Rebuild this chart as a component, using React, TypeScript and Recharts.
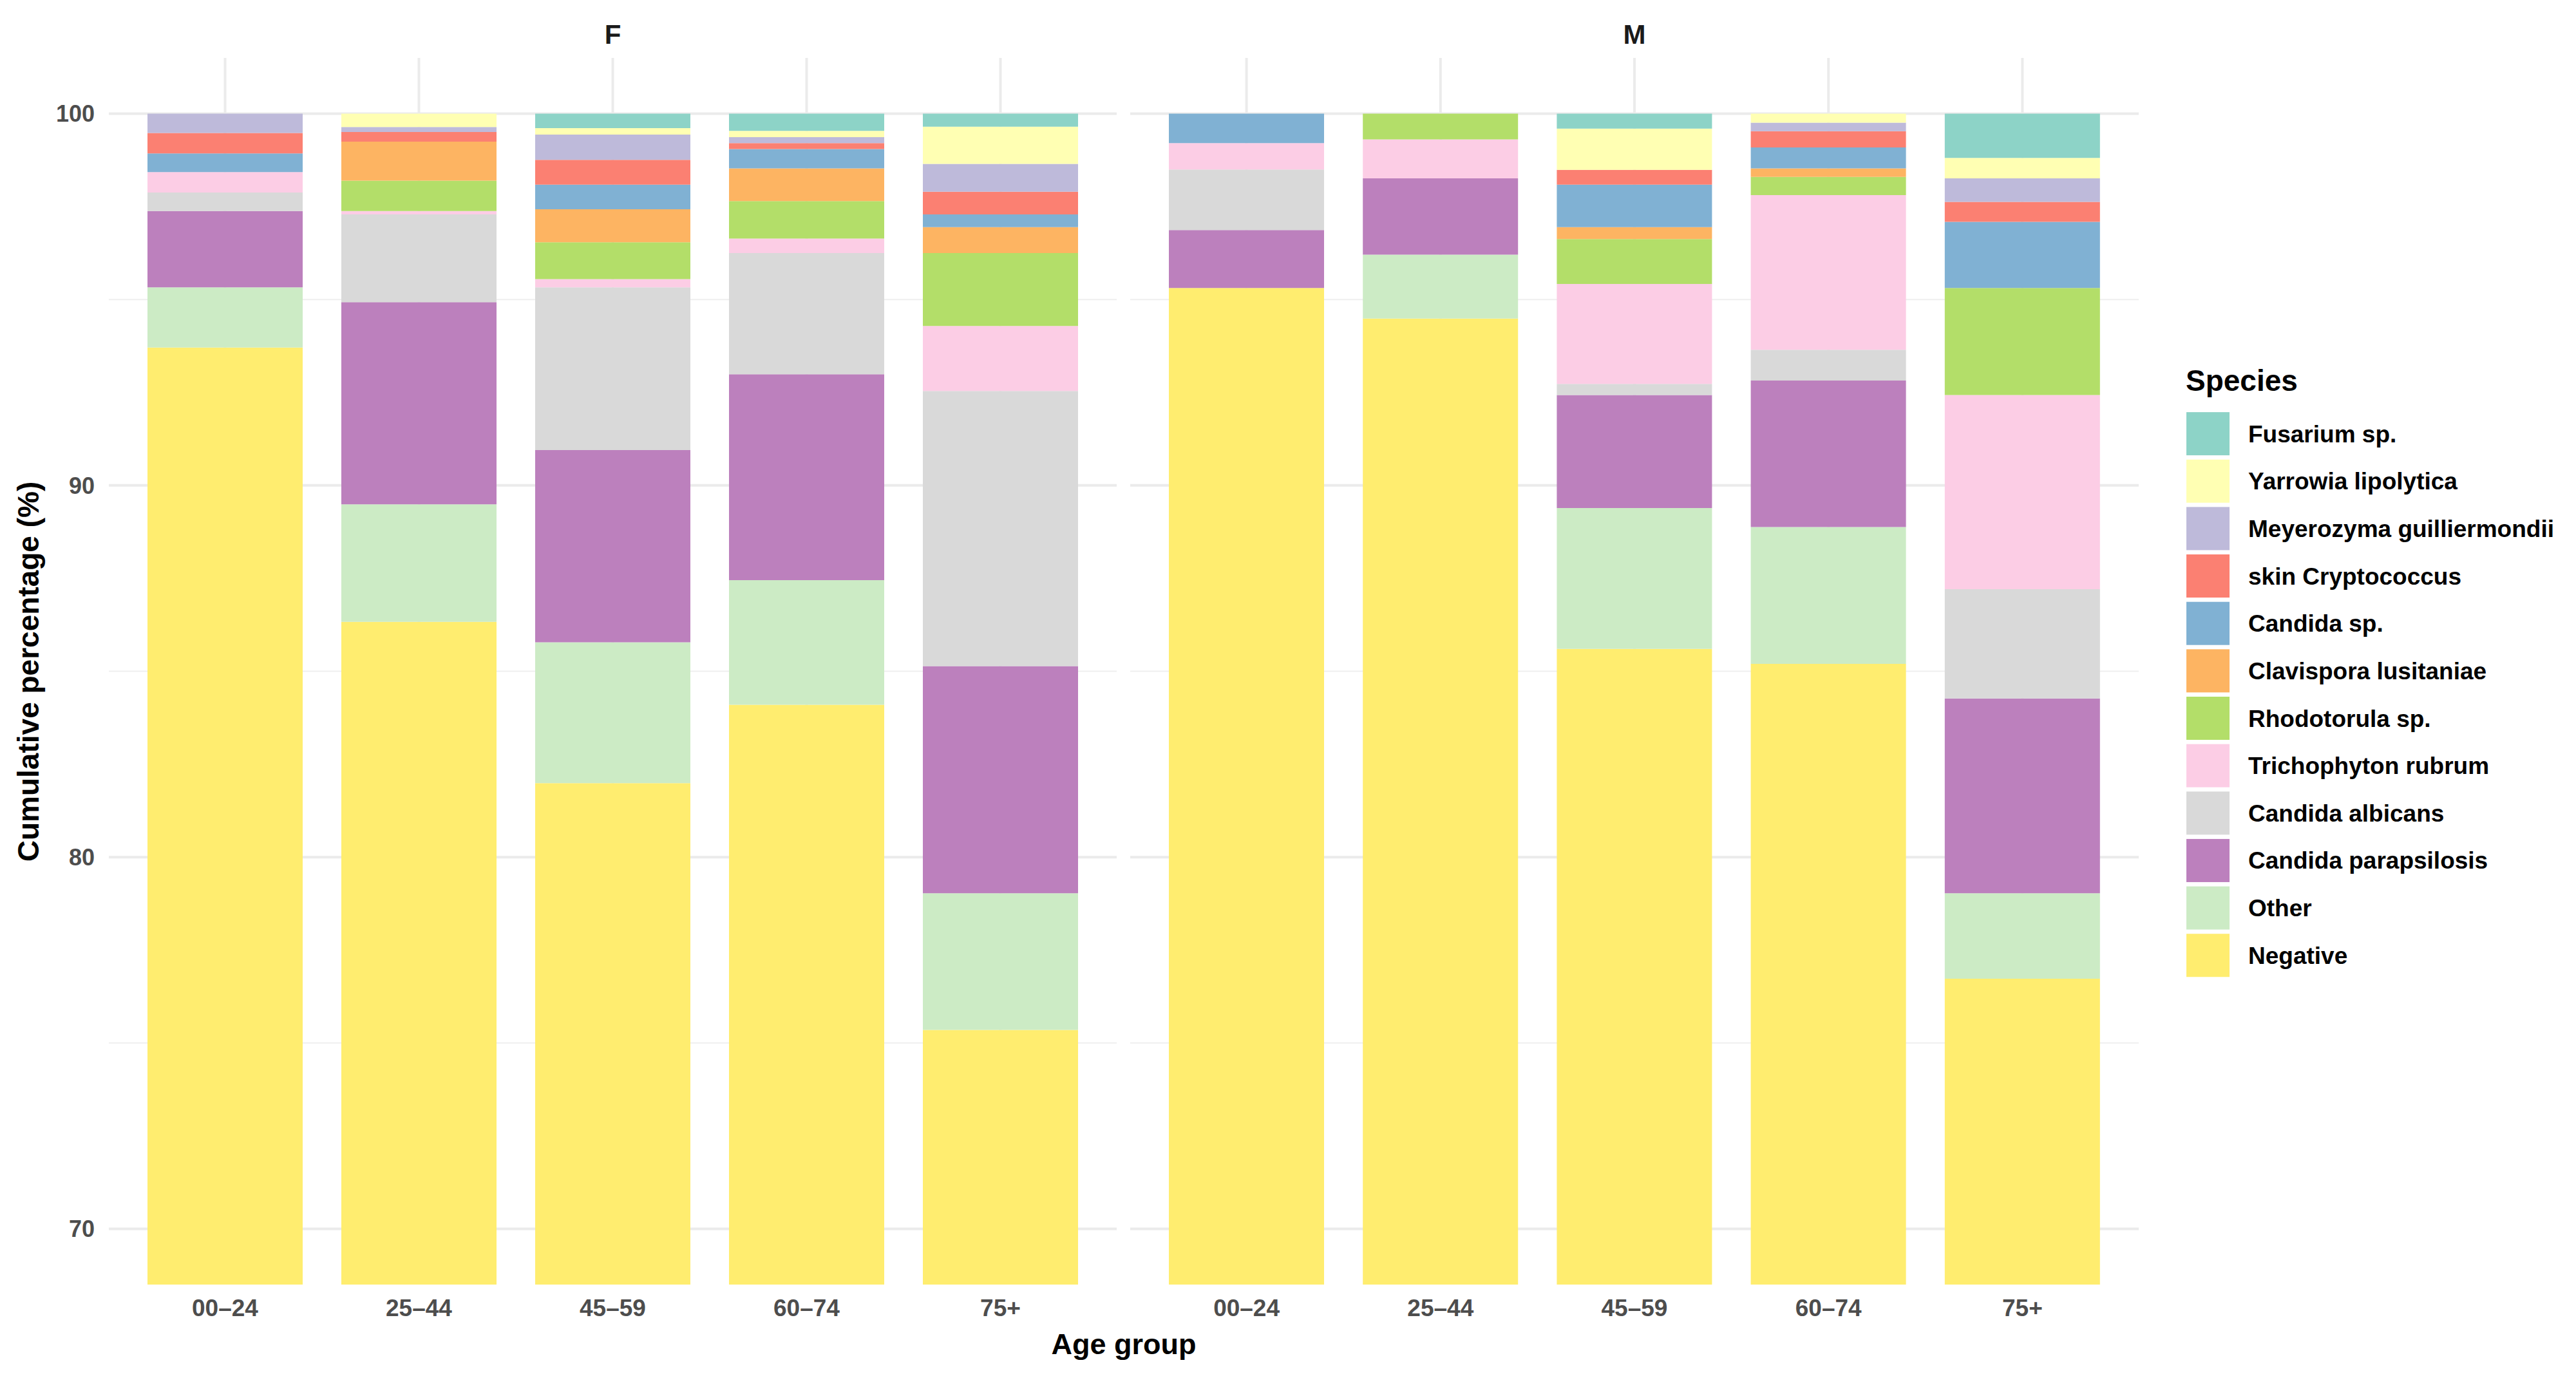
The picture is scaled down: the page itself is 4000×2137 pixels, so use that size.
import React from "react";
import { BarChart, Bar, XAxis, YAxis, CartesianGrid } from "recharts";

const ageGroups = ["00–24", "25–44", "45–59", "60–74", "75+"];
const sexes = ["F", "M"];

// values per bar: first 5 = F (age groups in order), last 5 = M
const negative = [93.71, 86.33, 81.99, 84.1, 75.35, 95.31, 94.49, 85.6, 85.2, 76.73];
const other = [1.62, 3.16, 3.79, 3.35, 3.68, 0, 1.72, 3.79, 3.68, 2.3];
const candidaParapsilosis = [2.05, 5.44, 5.17, 5.54, 6.11, 1.56, 2.05, 3.04, 3.94, 5.24];
const candidaAlbicans = [0.5, 2.36, 4.38, 3.26, 7.4, 1.63, 0, 0.3, 0.83, 2.94];
const trichophytonRubrum = [0.55, 0.09, 0.22, 0.39, 1.75, 0.71, 1.05, 2.69, 4.16, 5.22];
const rhodotorula = [0, 0.82, 0.99, 1.01, 1.96, 0, 0.69, 1.21, 0.49, 2.88];
const clavispora = [0, 1.05, 0.89, 0.88, 0.7, 0, 0, 0.32, 0.23, 0];
const candidaSp = [0.5, 0, 0.66, 0.52, 0.34, 0.79, 0, 1.14, 0.56, 1.78];
const skinCryptococcus = [0.55, 0.26, 0.67, 0.16, 0.61, 0, 0, 0.4, 0.44, 0.54];
const meyerozyma = [0.52, 0.13, 0.68, 0.16, 0.75, 0, 0, 0, 0.23, 0.63];
const yarrowia = [0, 0.36, 0.17, 0.17, 1.0, 0, 0, 1.11, 0.24, 0.55];
const fusarium = [0, 0, 0.39, 0.46, 0.35, 0, 0, 0.4, 0, 1.19];

// stacking order: bottom -> top
const speciesNames = [
  "Negative",
  "Other",
  "Candida parapsilosis",
  "Candida albicans",
  "Trichophyton rubrum",
  "Rhodotorula sp.",
  "Clavispora lusitaniae",
  "Candida sp.",
  "skin Cryptococcus",
  "Meyerozyma guilliermondii",
  "Yarrowia lipolytica",
  "Fusarium sp.",
];
const speciesColors = [
  "#FFED6F",
  "#CCEBC5",
  "#BC80BD",
  "#D9D9D9",
  "#FCCDE5",
  "#B3DE69",
  "#FDB462",
  "#80B1D3",
  "#FB8072",
  "#BEBADA",
  "#FFFFB3",
  "#8DD3C7",
];
const speciesValues = [
  negative,
  other,
  candidaParapsilosis,
  candidaAlbicans,
  trichophytonRubrum,
  rhodotorula,
  clavispora,
  candidaSp,
  skinCryptococcus,
  meyerozyma,
  yarrowia,
  fusarium,
];

const yTicks = [70, 80, 90, 100];
const yMinor = [75, 85, 95];

const FONT = '"Liberation Sans", Arial, Helvetica, sans-serif';

function buildData(sexIndex: number) {
  return ageGroups.map((age, i) => {
    const row: Record<string, any> = { age };
    speciesNames.forEach((name, s) => {
      row[name] = speciesValues[s][sexIndex * 5 + i];
    });
    return row;
  });
}

const PANEL_TOP = 90;
const X_AXIS_H = 142;
const CHART_H = 2137;

function Panel({ sexIndex, left, width, showY }: { sexIndex: number; left: number; width: number; showY: boolean }) {
  const data = buildData(sexIndex);
  const yW = showY ? 169 : 0;
  const plotW = width - yW;
  const pad = Math.round((plotW * 0.1) / 5.2);
  return (
    <div style={{ position: "absolute", left, top: 0 }}>
      <BarChart
        width={width}
        height={CHART_H}
        data={data}
        margin={{ top: PANEL_TOP, right: 0, bottom: 0, left: 0 }}
        barCategoryGap={0}
      >
        <CartesianGrid
          horizontalValues={yMinor}
          vertical={false}
          stroke="#EFEFEF"
          strokeWidth={2}
          strokeDasharray=""
        />
        <CartesianGrid
          horizontalValues={yTicks}
          syncWithTicks
          stroke="#EBEBEB"
          strokeWidth={4}
          strokeDasharray=""
        />
        <XAxis
          dataKey="age"
          height={X_AXIS_H}
          axisLine={false}
          tickLine={false}
          tickSize={6}
          tickMargin={17}
          interval={0}
          padding={{ left: pad, right: pad }}
          tick={{ fontSize: 37, fontWeight: 700, fill: "#4D4D4D", fontFamily: FONT }}
        />
        <YAxis
          hide={!showY}
          width={yW}
          type="number"
          domain={[68.5, 101.5]}
          allowDataOverflow
          ticks={yTicks}
          axisLine={false}
          tickLine={false}
          tickSize={6}
          tickMargin={16}
          tick={{ fontSize: 36, fontWeight: 700, fill: "#4D4D4D", fontFamily: FONT }}
        />
        {speciesNames.map((name, s) => (
          <Bar
            key={name}
            dataKey={name}
            stackId="a"
            fill={speciesColors[s]}
            barSize={241}
            isAnimationActive={false}
          />
        ))}
      </BarChart>
    </div>
  );
}

export default function App() {
  const legendTop = 673.6;
  const legendStep = 73.65;
  const legendOrder = speciesNames.map((_, i) => speciesNames.length - 1 - i);
  return (
    <div
      style={{
        position: "absolute",
        left: 0,
        top: 0,
        width: 4000,
        height: 2137,
        background: "#FFFFFF",
        fontFamily: FONT,
        overflow: "hidden",
      }}
    >
      <Panel sexIndex={0} left={0} width={1734} showY={true} />
      <Panel sexIndex={1} left={1755} width={1566} showY={false} />
      <svg
        width={4000}
        height={2137}
        style={{ position: "absolute", left: 0, top: 0, pointerEvents: "none" }}
        fontFamily={FONT}
      >
        {/* facet strip labels */}
        <text x={951.5} y={68} textAnchor="middle" fontSize={42} fontWeight={700} fill="#1A1A1A">
          {sexes[0]}
        </text>
        <text x={2538} y={68} textAnchor="middle" fontSize={42} fontWeight={700} fill="#1A1A1A">
          {sexes[1]}
        </text>
        {/* axis titles */}
        <text x={1745} y={2103} textAnchor="middle" fontSize={45} fontWeight={700} fill="#000000">
          Age group
        </text>
        <text
          transform="translate(60,1043) rotate(-90)"
          textAnchor="middle"
          fontSize={46}
          fontWeight={700}
          fill="#000000"
        >
          Cumulative percentage (%)
        </text>
        {/* legend */}
        <text x={3394} y={607} fontSize={46} fontWeight={700} fill="#000000">
          Species
        </text>
        {legendOrder.map((s, i) => {
          const cy = legendTop + i * legendStep;
          return (
            <g key={speciesNames[s]}>
              <rect x={3395} y={cy - 33.5} width={67} height={67} fill={speciesColors[s]} />
              <text x={3491} y={cy + 13} fontSize={37} fontWeight={700} fill="#000000">
                {speciesNames[s]}
              </text>
            </g>
          );
        })}
      </svg>
    </div>
  );
}
